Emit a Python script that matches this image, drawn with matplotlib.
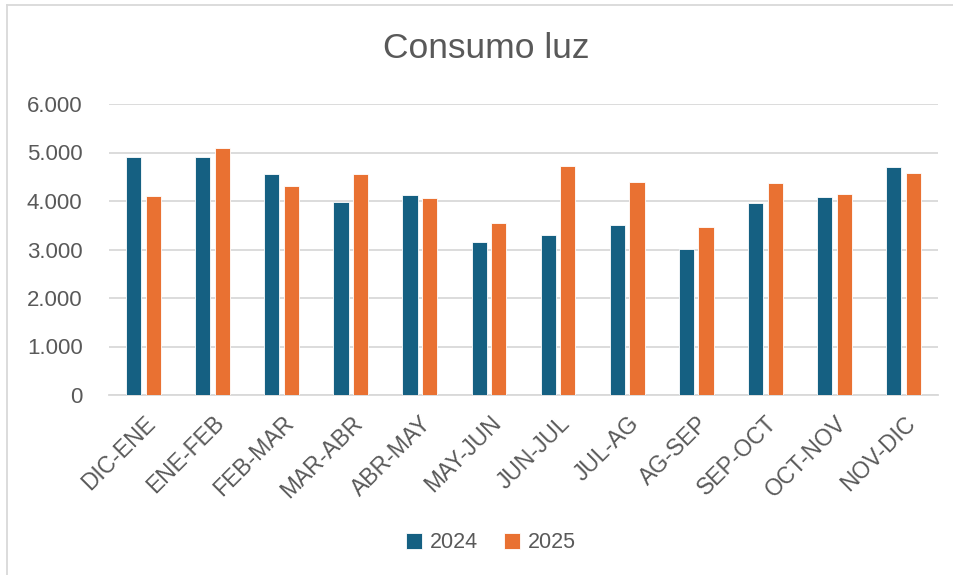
import numpy as np
import matplotlib
matplotlib.use("Agg")
import matplotlib.pyplot as plt
from matplotlib.lines import Line2D

periods = ["DIC-ENE", "ENE-FEB", "FEB-MAR", "MAR-ABR", "ABR-MAY", "MAY-JUN",
           "JUN-JUL", "JUL-AG", "AG-SEP", "SEP-OCT", "OCT-NOV", "NOV-DIC"]
consumo_2024 = [4900, 4900, 4565, 3980, 4130, 3155, 3290, 3510, 3010, 3950, 4075, 4710]
consumo_2025 = [4110, 5095, 4305, 4550, 4055, 3555, 4725, 4395, 3455, 4365, 4140, 4585]
yticks = [0, 1000, 2000, 3000, 4000, 5000, 6000]
ytick_labels = ["0", "1.000", "2.000", "3.000", "4.000", "5.000", "6.000"]

plt.rcParams["font.family"] = ["Liberation Sans", "DejaVu Sans"]
text_color = "#595959"
grid_color = "#D9D9D9"

fig = plt.figure(figsize=(9.54, 5.75), dpi=100)
ax = fig.add_axes([109 / 954, 1 - 395 / 575, (938 - 109) / 954, (395 - 104) / 575])

x = np.arange(len(periods))
ax.bar(x - 0.142, consumo_2024, width=0.22, color="#156082",
       edgecolor="white", linewidth=0.6, label="2024", zorder=3)
ax.bar(x + 0.142, consumo_2025, width=0.22, color="#E97132",
       edgecolor="white", linewidth=0.6, label="2025", zorder=3)

ax.set_xlim(-0.5, len(periods) - 0.5)
ax.set_ylim(0, 6000)
ax.set_yticks(yticks)
ax.set_yticklabels(ytick_labels, fontsize=16, color=text_color)
ax.set_xticks(x)
ax.set_xticklabels(periods, fontsize=16.5, color=text_color, rotation=45,
                   ha="right", rotation_mode="anchor")
ax.tick_params(axis="both", length=0)
ax.tick_params(axis="y", pad=19)
ax.tick_params(axis="x", pad=12)
ax.grid(axis="y", color=grid_color, linewidth=1.3, zorder=0)
for side in ["top", "right", "left"]:
    ax.spines[side].set_visible(False)
ax.spines["bottom"].set_color(grid_color)
ax.spines["bottom"].set_linewidth(1.3)

fig.text(486 / 954, 1 - 49 / 575, "Consumo luz", fontsize=25.5, color=text_color,
         ha="center", va="center")

leg = fig.legend(loc="center", bbox_to_anchor=(491 / 954, 1 - 543 / 575), ncol=2,
                 frameon=False, fontsize=15.5, handlelength=0.75, handleheight=0.75,
                 handletextpad=0.35, columnspacing=1.2)
for t in leg.get_texts():
    t.set_color(text_color)

# chart border (left and top edges visible)
fig.add_artist(Line2D([7 / 954, 7 / 954], [0, 1 - 5 / 575], color=grid_color,
                      linewidth=1.3, transform=fig.transFigure))
fig.add_artist(Line2D([7 / 954, 1], [1 - 5 / 575, 1 - 5 / 575], color=grid_color,
                      linewidth=1.3, transform=fig.transFigure))

fig.savefig("out.png", dpi=100)
